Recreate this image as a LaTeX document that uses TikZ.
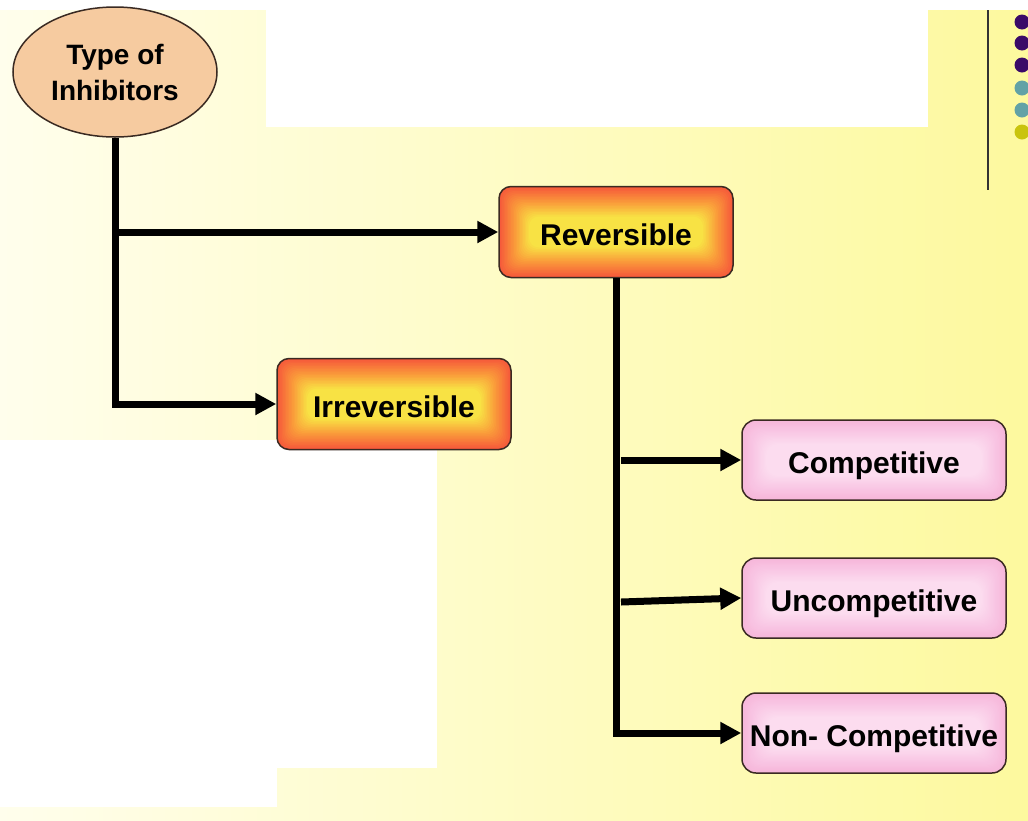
\documentclass[tikz,border=0pt]{standalone}
\usepackage{fontspec}
\setmainfont{Liberation Sans}
\usetikzlibrary{shapes.geometric,arrows.meta,calc}
\definecolor{bgL}{HTML}{FFFEEC}
\definecolor{bgR}{HTML}{FDF99E}
\definecolor{peach}{HTML}{F6CBA0}
\definecolor{edgeD}{HTML}{3A2A22}
\definecolor{orA}{HTML}{F5583A}
\definecolor{orB}{HTML}{FA9A3A}
\definecolor{orC}{HTML}{F8E244}
\definecolor{pkA}{HTML}{F6B6DA}
\definecolor{pkB}{HTML}{F9C8E5}
\definecolor{pkC}{HTML}{FCDCEF}
\definecolor{dotP}{HTML}{3A0A68}
\definecolor{dotT}{HTML}{62A2A6}
\definecolor{dotY}{HTML}{C9C40E}
\newcommand\nestgrad[5]{%
  \foreach \k [evaluate=\k as \p using int(\k*10)] in {1,...,10}{
    \fill[#2!\p!#1, rounded corners=#5]
      ($(path picture bounding box.south west)+(\k*#4,\k*#4)$) rectangle
      ($(path picture bounding box.north east)-(\k*#4,\k*#4)$);}
  \foreach \k [evaluate=\k as \p using int(\k*10)] in {1,...,10}{
    \fill[#3!\p!#2, rounded corners=#5]
      ($(path picture bounding box.south west)+(10*#4+\k*#4,10*#4+\k*#4)$) rectangle
      ($(path picture bounding box.north east)-(10*#4+\k*#4,10*#4+\k*#4)$);}
}
\tikzset{
  ell/.style={ellipse, draw=edgeD, line width=1.5pt, fill=peach,
    minimum width=204pt, minimum height=130pt, inner sep=0pt, align=center,
    font=\fontsize{28}{36}\selectfont\bfseries},
  orbox/.style={rectangle, rounded corners=12pt, draw=edgeD, line width=1.5pt,
    fill=orA, minimum width=234pt, minimum height=91pt, inner sep=0pt,
    text height=27pt, text depth=0pt,
    font=\fontsize{30}{36}\selectfont\bfseries,
    path picture={\nestgrad{orA}{orB}{orC}{1.5pt}{10pt}}},
  pkbox/.style={rectangle, rounded corners=14pt, draw=edgeD, line width=1.5pt,
    fill=pkA, minimum width=264pt, minimum height=80pt, inner sep=0pt,
    text height=27pt, text depth=0pt,
    font=\fontsize{30}{36}\selectfont\bfseries,
    path picture={\nestgrad{pkA}{pkB}{pkC}{1.2pt}{12pt}}},
  arr/.style={line width=7pt, draw=black, line join=miter,
    -{Triangle[length=21pt,width=21pt]}}
}
\begin{document}
\begin{tikzpicture}[x=1pt,y=-1pt]
\useasboundingbox (0,0) rectangle (1028,820);
% background
\shade[left color=bgL, right color=bgR] (0,0) rectangle (1028,820);
\fill[white] (0,0) rectangle (1028,10);
\fill[white] (266,10) rectangle (928,127);
\fill[white] (0,440) rectangle (437,768);
\fill[white] (0,768) rectangle (277,807);
% decoration at right
\draw[line width=2pt, draw=black!80] (988,10) -- (988,190);
\fill[dotP] (1022,22) circle (7.5pt);
\fill[dotP] (1022,43) circle (7.5pt);
\fill[dotP] (1022,65) circle (7.5pt);
\fill[dotT] (1022,88) circle (7.5pt);
\fill[dotT] (1022,110) circle (7.5pt);
\fill[dotY] (1022,132) circle (7.5pt);
% nodes
\node[ell] (toi) at (115,72) {Type of\\Inhibitors};
\node[orbox] (rev) at (616,232) {Reversible};
\node[orbox] (irr) at (394,404) {Irreversible};
\node[pkbox] (comp) at (874,460) {Competitive};
\node[pkbox] (unc) at (874,598) {Uncompetitive};
\node[pkbox] (nonc) at (874,733) {Non- Competitive};
% connectors
\draw[arr] (toi.south) |- (irr.west);
\draw[arr] (toi.south |- rev.west) -- (rev.west);
\draw[arr] (rev.south) |- (nonc.west);
\draw[arr] ([xshift=5pt]rev.south |- comp.west) -- (comp.west);
\draw[arr] ([xshift=5pt,yshift=-4pt]rev.south |- unc.west) -- (unc.west);
\end{tikzpicture}
\end{document}
